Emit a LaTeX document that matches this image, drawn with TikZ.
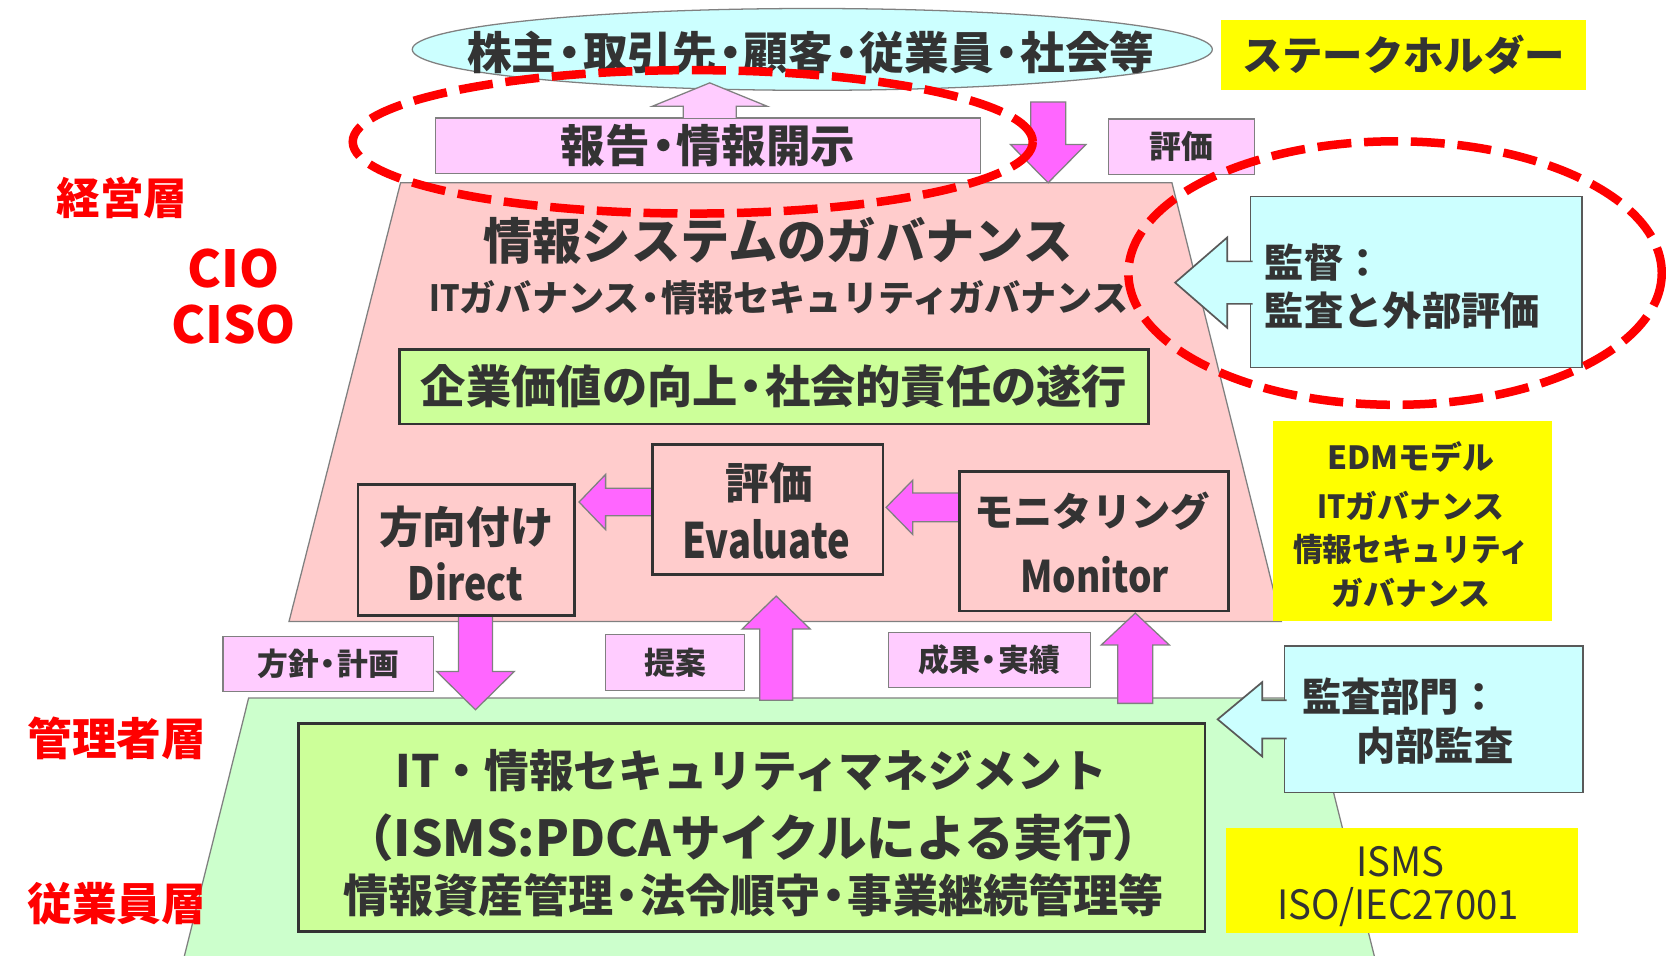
\documentclass[tikz,border=0pt]{standalone}
\usepackage{fontspec}
\setmainfont{Noto Sans CJK JP}
\usetikzlibrary{shapes.geometric,calc}
\definecolor{txt}{HTML}{333333}
\definecolor{cyanf}{HTML}{CCFFFF}
\definecolor{pinkf}{HTML}{FFCCFF}
\definecolor{magf}{HTML}{FF66FF}
\definecolor{govf}{HTML}{FFCCCC}
\definecolor{mgtf}{HTML}{CCFFCC}
\definecolor{limef}{HTML}{CCFF99}
\definecolor{yelf}{HTML}{FFFF00}
\definecolor{redc}{HTML}{FF0000}
\definecolor{edge}{HTML}{808080}
\definecolor{edgeb}{HTML}{595959}
\newcommand\fsz[1]{\fontsize{#1pt}{#1pt}\selectfont}
\newcommand\nd{\makebox[0.6em]{・}}
\newcommand\cnd[2]{\scalebox{#1}[1]{#2}}
% vertical block arrow: style, from, to, shaft half, head half, head length, closing
\newcommand\vblock[7]{%
  \path[#1] let \p1=(#2), \p2=(#3), \n1={sign(\y2-\y1)} in
   ({\x1-#4*0.5pt},{\y1}) -- ({\x1-#4*0.5pt},{\y2-(\n1)*#6*0.5pt}) -- ({\x1-#5*0.5pt},{\y2-(\n1)*#6*0.5pt})
   -- ({\x1},{\y2}) -- ({\x1+#5*0.5pt},{\y2-(\n1)*#6*0.5pt}) -- ({\x1+#4*0.5pt},{\y2-(\n1)*#6*0.5pt})
   -- ({\x1+#4*0.5pt},{\y1}) #7;}
% horizontal block arrow
\newcommand\hblock[7]{%
  \path[#1] let \p1=(#2), \p2=(#3), \n1={sign(\x2-\x1)} in
   ({\x1},{\y1+#4*0.5pt}) -- ({\x2-(\n1)*#6*0.5pt},{\y1+#4*0.5pt}) -- ({\x2-(\n1)*#6*0.5pt},{\y1+#5*0.5pt})
   -- ({\x2},{\y1}) -- ({\x2-(\n1)*#6*0.5pt},{\y1-#5*0.5pt}) -- ({\x2-(\n1)*#6*0.5pt},{\y1-#4*0.5pt})
   -- ({\x1},{\y1-#4*0.5pt}) #7;}
\begin{document}
\begin{tikzpicture}[x=0.5pt,y=-0.5pt,
  rbox/.style 2 args={rectangle, inner sep=0pt, minimum width=#1*0.5pt, minimum height=#2*0.5pt},
  thinbox/.style={draw=edge, line width=0.6pt},
  darkbox/.style={draw=txt, line width=1.3pt},
  cyanbox/.style={fill=cyanf, draw=edgeb, line width=0.8pt},
  lbl/.style={text=txt, inner sep=0pt, font=\bfseries\fsz{#1}},
  reglbl/.style={text=txt, inner sep=0pt, font=\fsz{#1}},
  redlbl/.style={text=redc, inner sep=0pt, font=\bfseries\fsz{#1}},
  blockarr/.style={fill=magf, draw=edge, line width=0.6pt, line join=miter},
  redring/.style={draw=redc, line width=4pt, dash pattern=on 16pt off 6pt},
]
\fill[white] (0,0) rectangle (1568,899);
\useasboundingbox (0,0) rectangle (1568,899);

% layers
\path[fill=govf, draw=edge, line width=0.6pt] (377,172) -- (1103,172) -- (1206,585) -- (272,585) -- cycle;
\path[fill=mgtf, draw=edge, line width=0.6pt] (234,657) -- (1233,657) -- (1296,910) -- (171,910) -- cycle;

% stakeholders
\node[ellipse, fill=cyanf, draw=edge, line width=0.6pt, minimum width=753*0.5pt, minimum height=77*0.5pt, inner sep=0pt] (stk) at (764.5,46.5) {};
\node[lbl=21] (stkT) at (763,49) {株主\nd 取引先\nd 顧客\nd 従業員\nd 社会等};
\node[rbox={344}{66}, fill=yelf, lbl=19] (stake) at (1321,52) {ステークホルダー};

% report / evaluation from stakeholders
\node[rbox={513}{52}, fill=pinkf, thinbox, lbl=21] (report) at (666.5,137) {報告\nd 情報開示};
\node[rbox={138}{52}, fill=pinkf, thinbox, lbl=15] (hyokaTop) at (1112,138) {評価};
\coordinate (repOut) at (668,111);
\coordinate (stkIn) at (668,78);
\vblock{fill=pinkf}{repOut}{stkIn}{25}{54}{22}{-- cycle}
\vblock{draw=edge, line width=0.6pt}{repOut}{stkIn}{25}{54}{22}{}
\coordinate (stkOut) at (986.5,96);
\coordinate (govIn) at (986.5,172);
\vblock{blockarr}{stkOut}{govIn}{16.5}{35.5}{36}{-- cycle}

% governance texts
\node[lbl=23.2] (govT1) at (732,227) {情報システムのガバナンス};
\node[lbl=17] (govT2) at (733,280) {\cnd{0.85}{IT}ガバナンス\nd 情報セキュリティガバナンス};
\node[rbox={705}{70}, fill=limef, darkbox, lbl=21.3] (goal) at (728.5,364) {企業価値の向上\nd 社会的責任の遂行};

% EDM arrows
\coordinate (evL) at (614,472.5);
\coordinate (dirR) at (545,472.5);
\hblock{blockarr}{evL}{dirR}{13}{26}{25}{-- cycle}
\coordinate (monL) at (903,477.5);
\coordinate (evR) at (834,477.5);
\hblock{blockarr}{monL}{evR}{13.5}{25.5}{25}{-- cycle}
\coordinate (dirB) at (447.5,580);
\coordinate (mgtIn) at (447.5,668);
\vblock{blockarr}{dirB}{mgtIn}{16}{36.5}{36}{-- cycle}
\coordinate (mgtOutA) at (730.5,659);
\coordinate (evB) at (730.5,561);
\vblock{blockarr}{mgtOutA}{evB}{15.5}{32}{31}{-- cycle}
\coordinate (mgtOutB) at (1068.5,662);
\coordinate (monB) at (1068.5,577);
\vblock{blockarr}{mgtOutB}{monB}{16.5}{32}{30}{-- cycle}

% EDM boxes
\node[rbox={217}{123}, darkbox] (eval) at (722.5,479.5) {};
\node[lbl=20.5] (evalT1) at (724,455) {評価};
\node[lbl=23] (evalT2) at (721,508) {\cnd{0.78}{Evaluate}};
\node[rbox={204}{123}, darkbox] (direct) at (439,517.5) {};
\node[lbl=20.5] (dirT1) at (439,496) {方向付け};
\node[lbl=21.5] (dirT2) at (438,548) {\cnd{0.82}{Direct}};
\node[rbox={253}{131}, darkbox] (monitor) at (1029.5,509.5) {};
\node[lbl=18.5] (monT1) at (1028,481) {モニタリング};
\node[lbl=20.5] (monT2) at (1030,541) {\cnd{0.85}{Monitor}};

% supervision
\node[rbox={312}{161}, cyanbox] (sup) at (1333,265.5) {};
\coordinate (supL) at (1179,266);
\coordinate (supTip) at (1106,266);
\hblock{fill=cyanf}{supL}{supTip}{20}{42.5}{49}{-- cycle}
\hblock{draw=edgeb, line width=0.8pt}{supL}{supTip}{20}{42.5}{49}{}
\node[lbl=18.5, anchor=west] (supT1) at (1190,247) {監督：};
\node[lbl=18.5, anchor=west] (supT2) at (1190,292) {監査と外部評価};

% EDM model box
\node[rbox={263}{188}, fill=yelf] (edm) at (1329.5,490) {};
\node[lbl=15] (edmT1) at (1328,430) {EDMモデル};
\node[lbl=15] (edmT2) at (1328,476) {\cnd{0.9}{IT}ガバナンス};
\node[lbl=15] (edmT3) at (1328,517) {\cnd{0.93}{情報セキュリティ}};
\node[lbl=15] (edmT4) at (1328,558) {ガバナンス};

% labels between layers
\node[rbox={198}{52}, fill=pinkf, thinbox, lbl=14.5] (lab1) at (309,625) {方針\nd 計画};
\node[rbox={131}{53}, fill=pinkf, thinbox, lbl=14.5] (lab2) at (635.5,623.5) {提案};
\node[rbox={190}{52}, fill=pinkf, thinbox, lbl=14.5] (lab3) at (931,621) {成果\nd 実績};

% internal audit
\node[rbox={281}{138}, cyanbox] (aud) at (1349.5,677) {};
\coordinate (audL) at (1211,677);
\coordinate (audTip) at (1146,677);
\hblock{fill=cyanf}{audL}{audTip}{18}{35}{42}{-- cycle}
\hblock{draw=edgeb, line width=0.8pt}{audL}{audTip}{18}{35}{42}{}
\node[lbl=18.5, anchor=west] (audT1) at (1225,656) {監査部門：};
\node[lbl=18.5, anchor=west] (audT2) at (1276,702) {内部監査};

% management box
\node[rbox={853}{196}, fill=limef, darkbox] (mgmt) at (707.5,779) {};
\node[lbl=21] (mgmtT1) at (707,725) {IT・情報セキュリティマネジメント};
\node[lbl=23.3] (mgmtT2) at (709,788) {（ISMS:PDCAサイクルによる実行）};
\node[lbl=21.2] (mgmtT3) at (709,843) {情報資産管理\nd 法令順守\nd 事業継続管理等};

% ISMS box
\node[rbox={331}{99}, fill=yelf] (isms) at (1319.5,828.5) {};
\node[reglbl=19] (ismsT1) at (1318,811) {\cnd{0.95}{ISMS}};
\node[reglbl=19] (ismsT2) at (1316,854) {\cnd{0.95}{ISO/IEC27001}};

% layer labels
\node[redlbl=20.5] (lvTop) at (115,186) {経営層};
\node[redlbl=24] (cio) at (220,253) {CIO};
\node[redlbl=24] (ciso) at (220,305) {CISO};
\node[redlbl=21] (lvMid) at (110,695) {管理者層};
\node[redlbl=21] (lvLow) at (110,850) {従業員層};

% highlight rings
\draw[redring] (652,133.5) ellipse [x radius=320, y radius=67.5];
\draw[redring] (1313,257) ellipse [x radius=251, y radius=124];
\end{tikzpicture}
\end{document}
